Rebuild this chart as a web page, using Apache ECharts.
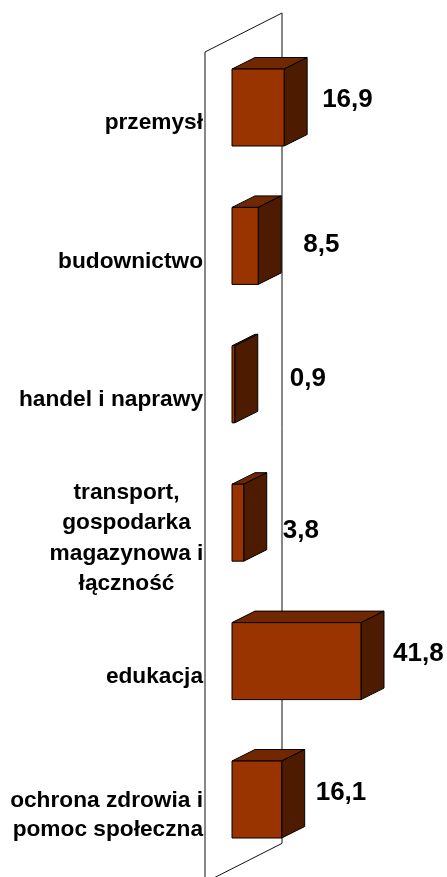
<!DOCTYPE html>
<html><head><meta charset="utf-8">
<style>html,body{margin:0;padding:0;background:#fff}#c{width:447px;height:877px}</style>
<script src="https://cdn.jsdelivr.net/npm/echarts@6/dist/echarts.min.js"></script>
</head><body><div id="c"></div>
<script>
const categories = ['przemysł','budownictwo','handel i naprawy','transport,\ngospodarka\nmagazynowa i\nłączność','edukacja','ochrona zdrowia i\npomoc społeczna'];
const values = [16.9, 8.5, 0.9, 3.8, 41.8, 16.1];
const valueLabels = ['16,9','8,5','0,9','3,8','41,8','16,1'];
const xMax = 50;
const chart = echarts.init(document.getElementById('c'), null, {renderer:'canvas'});
const DX = 23, DY = 11.5, BAR = 77;
const labelOffsets = [[15,-8],[22,-1.5],[32,-5],[16,8],[9,-7.5],[11,-7]];
const FONT = '"Liberation Sans",Arial,sans-serif';
function face(points, fill){
  return {type:'polygon', shape:{points}, style:{fill, stroke:'#000', lineWidth:1}};
}
const option = {
  animation:false,
  grid:{left:232, top:38.3, width:154.3, height:830.4},
  xAxis:{type:'value', min:0, max:xMax, show:false},
  yAxis:{type:'category', inverse:true, data:categories,
    axisLine:{show:false}, axisTick:{show:false}, splitLine:{show:false},
    axisLabel:{margin:29, padding:[31,0,0,0], color:'#000', fontFamily:FONT, fontWeight:'bold', fontSize:22.7, lineHeight:29,
      align:'right',
      formatter:(v,i)=> v.indexOf('transport')===0 ? v.split('\n').map(s=>'{c|'+s+'}').join('\n') : v,
      rich:{c:{width:153, align:'center', color:'#000', fontFamily:FONT, fontWeight:'bold', fontSize:22.7, lineHeight:30.5}}
    }},
  series:[
    {type:'custom', silent:true, z:1, data:[[0]], encode:{x:0},
     renderItem:(params,api)=>{
       const c = params.coordSys;
       const lx=c.x-27, rx=c.x+50, t=c.y, h=c.height;
       return {type:'polygon', shape:{points:[[lx,t+13.7],[rx,t-25.3],[rx,t-25.3+h],[lx,t+13.7+h]]},
         style:{fill:'none', stroke:'#111', lineWidth:1}};
     }},
    {type:'custom', z:2, clip:false, data:values.map((v,i)=>[v,i]), encode:{x:0,y:1},
     renderItem:(params,api)=>{
       const v=api.value(0), i=api.value(1);
       const p=api.coord([v,i]), o=api.coord([0,i]);
       const x0=o[0], x1=p[0], y0=p[1]-BAR/2, y1=p[1]+BAR/2;
       return {type:'group', children:[
         face([[x0,y0],[x0+DX,y0-DY],[x1+DX,y0-DY],[x1,y0]], '#712800'),
         face([[x1,y0],[x1+DX,y0-DY],[x1+DX,y1-DY],[x1,y1]], '#4d1b00'),
         face([[x0,y0],[x1,y0],[x1,y1],[x0,y1]], '#993300'),
         {type:'text', style:{x:x1+DX+labelOffsets[i][0], y:p[1]+labelOffsets[i][1],
           text:valueLabels[i], fill:'#000', font:'bold 26px '+FONT, textAlign:'left', textVerticalAlign:'middle'}}
       ]};
     }}
  ]
};
chart.setOption(option);
</script></body></html>
